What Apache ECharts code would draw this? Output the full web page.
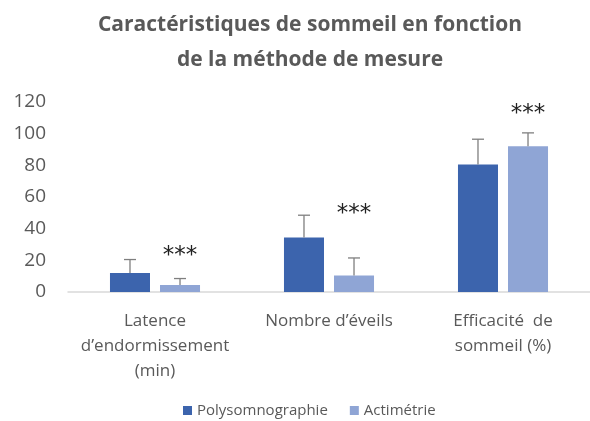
<!DOCTYPE html>
<html>
<head>
<meta charset="utf-8">
<script src="https://cdn.jsdelivr.net/npm/echarts@6/dist/echarts.min.js"></script>
<style>
  html, body { margin: 0; padding: 0; background: #fff; }
  #chart { width: 590px; height: 421px; }
</style>
</head>
<body>
<div id="chart"></div>
<script>
const categories = ["Latence\nd’endormissement\n(min)", "Nombre d’éveils", "Efficacité  de\nsommeil (%)"];
const psgValues = [12, 34.5, 80.5];
const psgErrorTop = [20.5, 48.5, 96.5];
const actiValues = [4.5, 10.5, 92];
const actiErrorTop = [8.5, 21.5, 100.5];
const starLevels = [25, 52, 115];
const seriesNames = ["Polysomnographie", "Actimétrie"];

const BAR_FRAC = 0.23;
const GAP_FRAC = 0.25;

// side: -1 for first bar, +1 for second bar
function barOffset(api, side) {
  const band = api.size([1, 0])[0];
  const bw = band * BAR_FRAC;
  return side * (bw + bw * GAP_FRAC) / 2;
}

function errorRender(side) {
  return function (params, api) {
    const idx = api.value(0);
    const base = api.coord([idx, api.value(1)]);
    const top = api.coord([idx, api.value(2)]);
    const x = base[0] + barOffset(api, side);
    const cap = 6;
    const style = { stroke: "#7f7f7f", lineWidth: 1.3 };
    return {
      type: "group",
      children: [
        { type: "line", shape: { x1: x, y1: base[1], x2: x, y2: top[1] }, style },
        { type: "line", shape: { x1: x - cap, y1: top[1], x2: x + cap, y2: top[1] }, style }
      ]
    };
  };
}

const chart = echarts.init(document.getElementById("chart"));
chart.setOption({
  backgroundColor: "#fff",
  animation: false,
  title: {
    text: "Caractéristiques de sommeil en fonction\nde la méthode de mesure",
    left: 305,
    textAlign: "center",
    top: 3,
    textStyle: {
      fontFamily: "Open Sans",
      fontSize: 21,
      fontWeight: "bold",
      color: "#595959",
      lineHeight: 35
    }
  },
  legend: {
    bottom: -2,
    left: 178,
    icon: "rect",
    itemWidth: 9,
    itemHeight: 9,
    itemGap: 22,
    data: seriesNames,
    textStyle: { fontFamily: "Open Sans", fontSize: 15, color: "#595959" }
  },
  grid: { left: 68, right: -4, top: 102, bottom: 129 },
  xAxis: {
    type: "category",
    data: categories,
    axisLine: { lineStyle: { color: "#d9d9d9", width: 1.5 } },
    axisTick: { show: false },
    axisLabel: {
      fontFamily: "Open Sans",
      fontSize: 17,
      color: "#595959",
      lineHeight: 25,
      margin: 17,
      interval: 0
    }
  },
  yAxis: {
    type: "value",
    min: 0,
    max: 120,
    interval: 20,
    splitLine: { show: false },
    axisLine: { show: false },
    axisTick: { show: false },
    axisLabel: {
      fontFamily: "Open Sans",
      fontSize: 19,
      color: "#595959",
      margin: 22
    }
  },
  series: [
    {
      name: seriesNames[0],
      type: "bar",
      data: psgValues,
      barWidth: (BAR_FRAC * 100) + "%",
      barGap: (GAP_FRAC * 100) + "%",
      itemStyle: { color: "#3c64ad" }
    },
    {
      name: seriesNames[1],
      type: "bar",
      data: actiValues,
      barWidth: (BAR_FRAC * 100) + "%",
      itemStyle: { color: "#8fa5d5" }
    },
    {
      type: "custom",
      renderItem: errorRender(-1),
      data: psgValues.map((v, i) => [i, v, psgErrorTop[i]]),
      z: 5
    },
    {
      type: "custom",
      renderItem: errorRender(1),
      data: actiValues.map((v, i) => [i, v, actiErrorTop[i]]),
      z: 5
    },
    {
      type: "custom",
      renderItem: function (params, api) {
        const idx = api.value(0);
        const p = api.coord([idx, api.value(1)]);
        return {
          type: "text",
          x: p[0] + barOffset(api, 1),
          y: p[1] + 4,
          style: {
            text: "***",
            fontFamily: "DejaVu Sans",
            fontSize: 23,
            fill: "#222",
            align: "center",
            verticalAlign: "middle"
          }
        };
      },
      data: starLevels.map((v, i) => [i, v]),
      z: 6
    }
  ]
});
</script>
</body>
</html>
